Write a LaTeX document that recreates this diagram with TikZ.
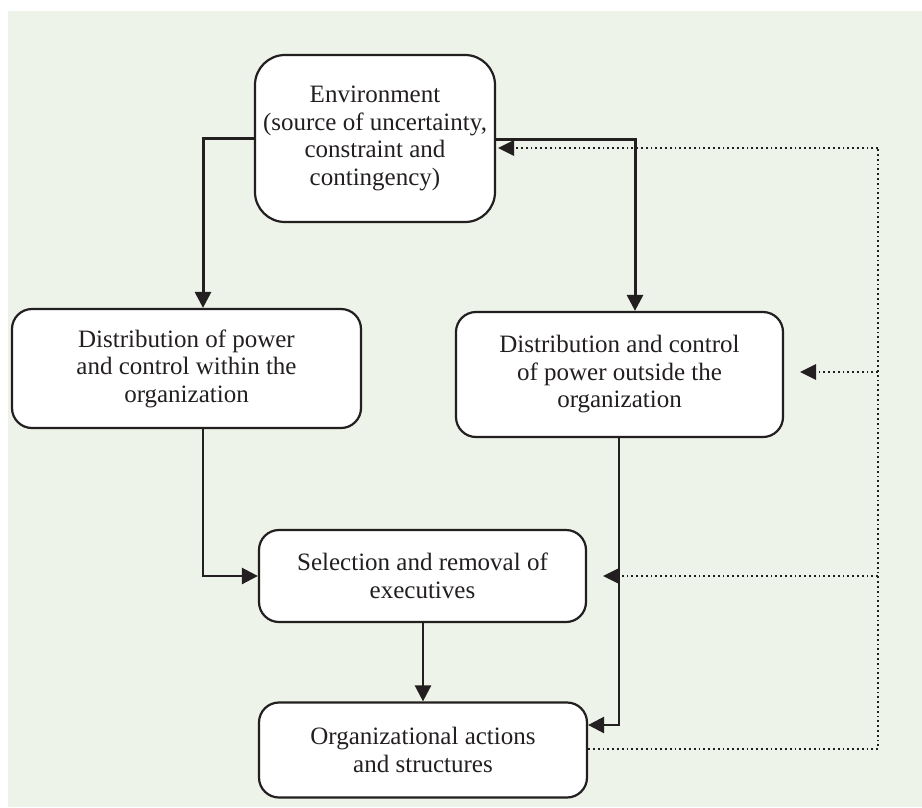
\documentclass[tikz,border=0pt]{standalone}
\usepackage{fontspec}
\setmainfont{Liberation Serif}
\usetikzlibrary{arrows.meta}
\definecolor{panel}{RGB}{237,243,232}
\definecolor{ink}{RGB}{35,31,32}
\begin{document}
\begin{tikzpicture}[x=1pt,y=-1pt,
  box/.style={draw=ink,line width=2.2pt,fill=white,rounded corners=20pt,
    align=center,inner sep=0pt,font=\fontsize{25}{27.5}\selectfont,text=ink},
  tip/.style={-{Triangle[length=16pt,width=16pt]}},
  flow/.style={draw=ink,line width=3pt,tip},
  thin flow/.style={draw=ink,line width=2.5pt,tip},
  feedback/.style={draw=ink,line width=2.2pt,dash pattern=on 1.8pt off 3pt},
  feedback tip/.style={feedback,-{Triangle[length=16pt,width=16pt,line width=0pt]}}]
\useasboundingbox (0,0) rectangle (922,807);
\fill[panel] (8,11) rectangle (922,807);

% boxes
\node[box,rounded corners=30pt,minimum width=240pt,minimum height=167pt] (env) at (375,138.5)
  {Environment\\(source of uncertainty,\\constraint and\\contingency)};
\node[box,minimum width=349pt,minimum height=119pt] (within) at (186.5,368.5)
  {Distribution of power\\and control within the\\organization};
\node[box,minimum width=327pt,minimum height=125pt] (outside) at (619.5,374.5)
  {Distribution and control\\of power outside the\\organization};
\node[box,minimum width=327pt,minimum height=92pt] (select) at (422.5,576)
  {Selection and removal of\\executives};
\node[box,minimum width=328pt,minimum height=95pt] (org) at (423,750)
  {Organizational actions\\and structures};

% bend points
\coordinate (eL) at (203,138);
\coordinate (eR) at (635,139);
\coordinate (wB) at (203,576);
\coordinate (sB) at (423,0);
\coordinate (oB) at (619,725);
\coordinate (fb) at (878,749);
\coordinate (fTop) at (878,148);
\coordinate (fMid) at (878,372);
\coordinate (fLow) at (878,576);

% solid connectors
\draw[flow] (eL -| env.west) -- (eL) -- (eL |- within.north);
\draw[flow] (eR -| env.east) -- (eR) -- (eR |- outside.north);
\draw[thin flow] (wB |- within.south) -- (wB) -- (wB -| select.west);
\draw[thin flow] (sB |- select.south) -- (sB |- org.north);
\draw[thin flow] (oB |- outside.south) -- (oB) -- (oB -| org.east);

% dotted feedback loop
\draw[feedback] (fb -| org.east) -- (fb) -- (fTop);
\draw[feedback tip] (fTop) -- ([xshift=2pt]fTop -| env.east);
\draw[feedback tip] (fMid) -- ([xshift=16pt]fMid -| outside.east);
\draw[feedback tip] (fLow) -- ([xshift=16pt]fLow -| select.east);
\end{tikzpicture}
\end{document}
